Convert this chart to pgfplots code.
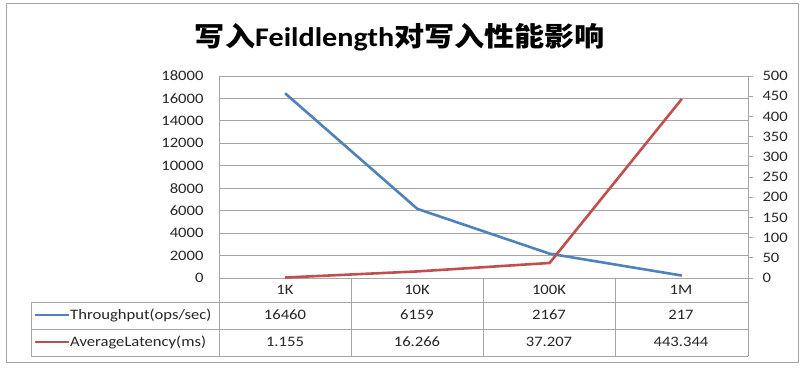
\documentclass[border=0pt]{standalone}
\usepackage{pgfplots}
\pgfplotsset{compat=1.18}
\usepackage{fontspec}
\setmainfont{Carlito}[FakeStretch=1.15]
\newfontfamily\cjk{Noto Sans CJK SC}[FakeStretch=1.12]
\newfontfamily\titlelatin{Carlito}[FakeStretch=1.12]
\definecolor{xblue}{HTML}{4F81BD}
\definecolor{xred}{HTML}{C0504D}
\definecolor{xgrid}{HTML}{A6A6A6}
\definecolor{xtext}{HTML}{262626}
\begin{document}
\begin{tikzpicture}
\useasboundingbox (0bp,0bp) rectangle (804bp,369bp);
\begin{axis}[
  at={(219bp,91bp)}, anchor=south west,
  scale only axis, width=529bp, height=202bp,
  xmin=-0.5, xmax=3.5, ymin=0, ymax=18000,
  xtick=\empty,
  ytick={0,2000,...,18000},
  ymajorgrids, grid style={xgrid,line width=0.8bp},
  axis line style={xgrid,line width=0.8bp},
  major tick length=0pt,
  yticklabel style={text=xtext,font=\fontsize{14.5}{16}\selectfont,xshift=-12bp},
  scaled y ticks=false,
  /pgf/number format/assume math mode=true,
  /pgf/number format/set thousands separator={},
  clip=false,
]
\addplot[xblue,line width=2.6bp,mark=none] coordinates {(0,16460) (1,6159) (2,2167) (3,217)};
\end{axis}
\begin{axis}[
  at={(219bp,91bp)}, anchor=south west,
  scale only axis, width=529bp, height=202bp,
  xmin=-0.5, xmax=3.5, ymin=0, ymax=500,
  axis x line=none, axis y line*=right,
  ytick={0,50,...,500},
  axis line style={xgrid,line width=0.8bp,-},
  tick style={xgrid,line width=0.8bp},
  tick align=outside, major tick length=5bp,
  yticklabel style={text=xtext,font=\fontsize{14.5}{16}\selectfont,xshift=6bp},
  /pgf/number format/assume math mode=true,
  clip=false,
]
\addplot[xred,line width=2.6bp,mark=none] coordinates {(0,1.155) (1,16.266) (2,37.207) (3,443.344)};
\end{axis}
\begin{scope}[x=1bp,y=1bp]
\draw[xgrid,line width=1bp] (6,7) rectangle (798,365);
\node[text=black] at (400,332) {\fontsize{27}{30}\selectfont{\cjk\bfseries 写入}{\titlelatin\bfseries Feildlength}{\cjk\bfseries 对写入性能影响}};
\begin{scope}[xgrid,line width=0.9bp]
\draw (31,67) -- (748,67);
\draw (31,40) -- (748,40);
\draw (31,13) -- (748,13);
\draw (31,67) -- (31,13);
\foreach \x in {219,351,483,615,748} \draw (\x,91) -- (\x,13);
\end{scope}
\begin{scope}[text=xtext,font=\fontsize{14.5}{16}\selectfont]
\node at (285,79) {1K};
\node at (417,79) {10K};
\node at (549,79) {100K};
\node at (681,79) {1M};
\draw[xblue,line width=2.6bp] (35,54) -- (69,54);
\draw[xred,line width=2.6bp] (35,27) -- (69,27);
\node[anchor=west,inner sep=0pt] at (70,54) {Throughput(ops/sec)};
\node[anchor=west,inner sep=0pt] at (70,27) {AverageLatency(ms)};
\node at (285,54) {16460};
\node at (417,54) {6159};
\node at (549,54) {2167};
\node at (681,54) {217};
\node at (285,27) {1.155};
\node at (417,27) {16.266};
\node at (549,27) {37.207};
\node at (681,27) {443.344};
\end{scope}
\end{scope}
\end{tikzpicture}
\end{document}
